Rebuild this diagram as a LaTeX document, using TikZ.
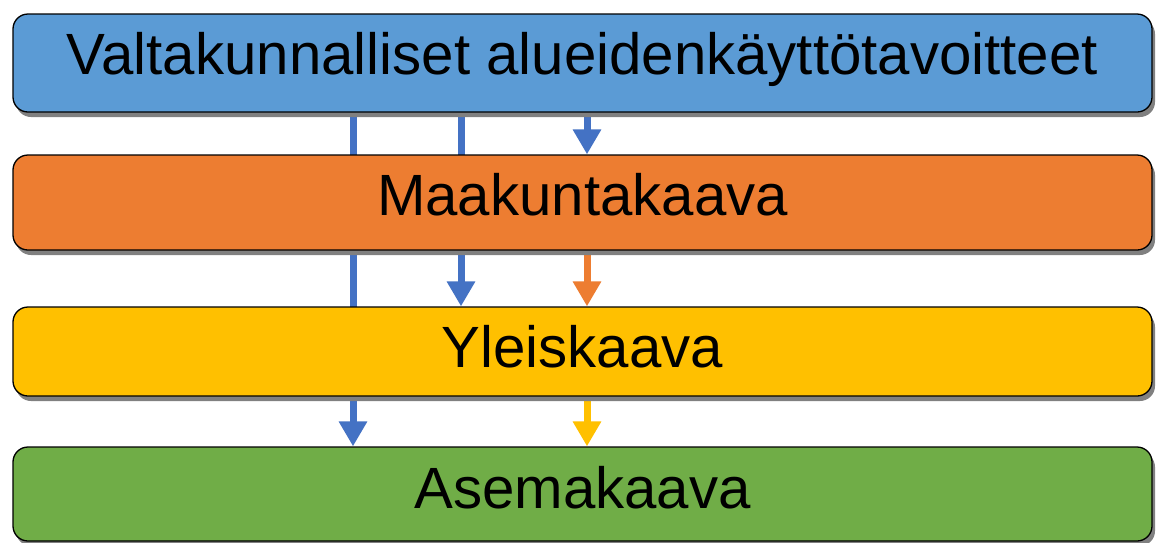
\documentclass[tikz,border=0pt]{standalone}
\usepackage{fontspec}
\setmainfont{Liberation Sans}
\usetikzlibrary{arrows.meta,shadows,backgrounds}
\definecolor{cblue}{HTML}{5B9BD5}
\definecolor{corange}{HTML}{ED7D31}
\definecolor{cyellow}{HTML}{FFC000}
\definecolor{cgreen}{HTML}{70AD47}
\definecolor{carrow}{HTML}{4472C4}
\definecolor{cshadow}{HTML}{808080}
\tikzset{
  levelbox/.style={draw=black, line width=1.3pt, rounded corners=15pt,
    minimum width=1139pt, inner sep=0pt, text height=40pt,
    font=\fontsize{58.2}{60}\selectfont,
    drop shadow={shadow xshift=3pt, shadow yshift=-5pt, fill=cshadow, opacity=1}},
  flow/.style={line width=7pt, -{Triangle[width=27pt,length=25pt]}},
}
\begin{document}
\begin{tikzpicture}[x=1pt,y=-1pt]
\useasboundingbox (0,0) rectangle (1157,542);
\node[levelbox, fill=cblue, minimum height=98pt, text depth=18pt] (n1) at (582.5,63) {Valtakunnalliset alueidenkäyttötavoitteet};
\node[levelbox, fill=corange, minimum height=95pt, text depth=15pt] (n2) at (582.5,202.5) {Maakuntakaava};
\node[levelbox, fill=cyellow, minimum height=89pt, text depth=9pt] (n3) at (582.5,351.5) {Yleiskaava};
\node[levelbox, fill=cgreen, minimum height=94pt, text depth=12pt] (n4) at (582.5,494) {Asemakaava};
\coordinate (xa) at (353,0);
\coordinate (xb) at (461,0);
\coordinate (xc) at (587,0);
\begin{scope}[on background layer]
\fill[white] (0,0) rectangle (1157,542);
\draw[flow, carrow] (xa |- n1.south) -- (xa |- n4.north);
\draw[flow, carrow] (xb |- n1.south) -- (xb |- n3.north);
\draw[flow, carrow] (xc |- n1.south) -- (xc |- n2.north);
\draw[flow, corange] (xc |- n2.south) -- (xc |- n3.north);
\draw[flow, cyellow] (xc |- n3.south) -- (xc |- n4.north);
\end{scope}
\end{tikzpicture}
\end{document}
